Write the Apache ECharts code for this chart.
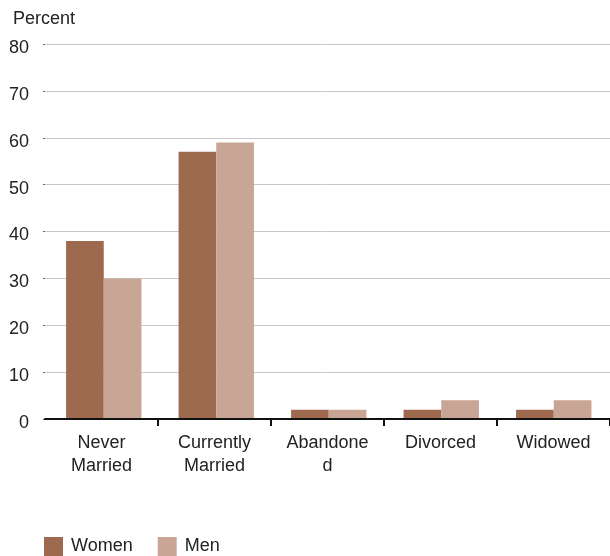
<!DOCTYPE html>
<html>
<head>
<meta charset="utf-8">
<script src="https://cdn.jsdelivr.net/npm/echarts@6/dist/echarts.min.js"></script>
<style>
html,body{margin:0;padding:0;background:#fff;}
#chart{width:610px;height:556px;}
</style>
</head>
<body>
<div id="chart"></div>
<script>
// Marital status by sex, percent
const categories = ["Never\nMarried", "Currently\nMarried", "Abandone\nd", "Divorced", "Widowed"];
const women = [38, 57, 2, 2, 2];
const men = [30, 59, 2, 4, 4];
const yTicks = [0, 80, 10];

const font = "'Liberation Sans', Arial, sans-serif";
const chart = echarts.init(document.getElementById('chart'));
chart.setOption({
  animation: false,
  textStyle: { fontFamily: font },
  // grid 0 carries the visible axes, grid 1 the bars (nudged slightly right)
  grid: [
    { left: 45, right: 0, top: 44, bottom: 137 },
    { left: 47.5, right: -2.5, top: 44, bottom: 137 }
  ],
  title: {
    text: 'Percent', left: 8, top: 5,
    textStyle: { fontFamily: font, fontSize: 18, fontWeight: 'normal', color: '#222' }
  },
  legend: {
    left: 44, bottom: 0, padding: 0, itemWidth: 19, itemHeight: 19, itemGap: 25,
    icon: 'rect',
    textStyle: { fontFamily: font, fontSize: 18, color: '#222', padding: [2, 0, 0, 3] },
    data: ['Women', 'Men']
  },
  xAxis: [
    {
      type: 'category', data: categories, gridIndex: 0, z: 5,
      axisLine: { lineStyle: { color: '#111', width: 2 } },
      axisTick: { show: true, length: 7, interval: (i) => i !== 0, lineStyle: { color: '#111', width: 2 } },
      axisLabel: { fontFamily: font, fontSize: 18, color: '#222', margin: 13, lineHeight: 23 }
    },
    { type: 'category', data: categories, gridIndex: 1, show: false }
  ],
  yAxis: [
    {
      type: 'value', gridIndex: 0, min: yTicks[0], max: yTicks[1], interval: yTicks[2],
      axisLine: { show: false },
      axisTick: { show: true, length: 2, lineStyle: { color: '#666' } },
      splitLine: { lineStyle: { color: '#c8c8c8', width: 1 } },
      axisLabel: { fontFamily: font, fontSize: 18, color: '#222', align: 'right', margin: 16,
        verticalAlign: 'top', lineHeight: 8 }
    },
    { type: 'value', gridIndex: 1, min: yTicks[0], max: yTicks[1], interval: yTicks[2], show: false,
      splitLine: { show: false } }
  ],
  series: [
    { name: 'Women', type: 'bar', data: women, xAxisIndex: 1, yAxisIndex: 1,
      barGap: '0%', barCategoryGap: '33%', itemStyle: { color: '#9e6a4f' } },
    { name: 'Men', type: 'bar', data: men, xAxisIndex: 1, yAxisIndex: 1,
      barGap: '0%', barCategoryGap: '33%', itemStyle: { color: '#c8a595' } }
  ]
});
</script>
</body>
</html>
